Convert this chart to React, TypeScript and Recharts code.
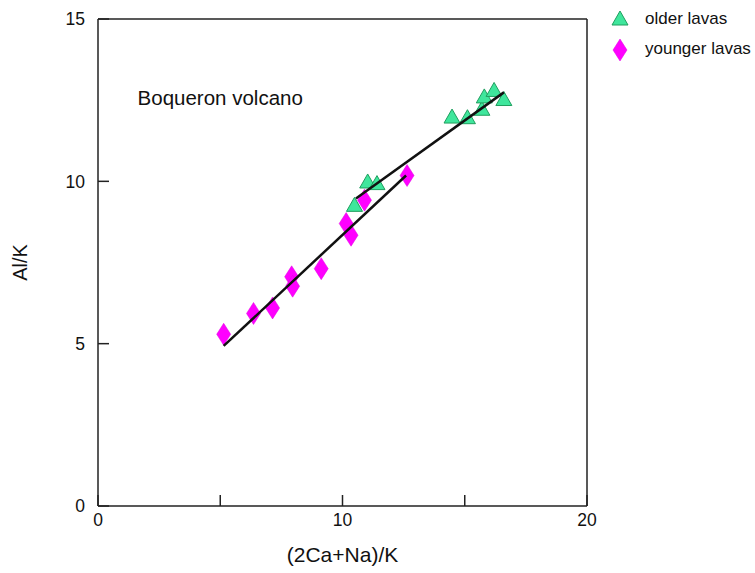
import React from "react";
import {
  ScatterChart,
  Scatter,
  XAxis,
  YAxis,
  Legend,
  ReferenceDot,
} from "recharts";

const FONT = '"Liberation Sans", Arial, Helvetica, sans-serif';

// sample points: [ (2Ca+Na)/K, Al/K ]
const olderLavas = [
  { x: 10.49, y: 9.26 },
  { x: 11.03, y: 9.98 },
  { x: 11.41, y: 9.93 },
  { x: 14.48, y: 11.98 },
  { x: 15.11, y: 11.96 },
  { x: 15.7, y: 12.22 },
  { x: 15.8, y: 12.6 },
  { x: 16.2, y: 12.8 },
  { x: 16.6, y: 12.52 },
];

const youngerLavas = [
  { x: 5.14, y: 5.29 },
  { x: 6.36, y: 5.93 },
  { x: 7.14, y: 6.1 },
  { x: 7.92, y: 7.06 },
  { x: 7.96, y: 6.77 },
  { x: 9.13, y: 7.31 },
  { x: 10.15, y: 8.7 },
  { x: 10.35, y: 8.34 },
  { x: 10.9, y: 9.42 },
  { x: 12.64, y: 10.18 },
];

// fitted trend lines (end points)
const olderFit = [
  { x: 10.55, y: 9.47 },
  { x: 16.6, y: 12.74 },
];
const youngerFit = [
  { x: 5.14, y: 4.93 },
  { x: 12.6, y: 10.18 },
];

const xTicks = [0, 5, 10, 15, 20];
const yTicks = [0, 5, 10, 15];

const GREEN = "#3fe69c";
const GREEN_EDGE = "#1f9e5e";
const MAGENTA = "#ff00ff";

const Triangle = ({ cx, cy }: any) => (
  <polygon
    points={`${cx},${cy - 8} ${cx + 8},${cy + 6} ${cx - 8},${cy + 6}`}
    fill={GREEN}
    stroke={GREEN_EDGE}
    strokeWidth={1}
  />
);

const Diamond = ({ cx, cy }: any) => (
  <polygon
    points={`${cx},${cy - 11} ${cx + 7},${cy} ${cx},${cy + 11} ${cx - 7},${cy}`}
    fill={MAGENTA}
    stroke="#e000e0"
    strokeWidth={0.5}
  />
);

const Nothing = () => <g />;

const YLabel = (props: any) => {
  const { viewBox } = props;
  const cx = 20;
  const cy = viewBox.y + viewBox.height / 2;
  return (
    <text
      x={cx}
      y={cy}
      transform={`rotate(-90 ${cx} ${cy})`}
      textAnchor="middle"
      dominantBaseline="central"
      fontSize={20}
      fontFamily={FONT}
      fill="#111"
    >
      Al/K
    </text>
  );
};

const LegendContent = (props: any) => {
  const items = (props.payload || []).filter(
    (p: any) => p.value === "older lavas" || p.value === "younger lavas"
  );
  return (
    <div style={{ fontFamily: FONT, fontSize: 17, color: "#111" }}>
      {items.map((p: any) => (
        <div
          key={p.value}
          style={{ display: "flex", alignItems: "center", height: 30 }}
        >
          <svg width={24} height={30} style={{ marginRight: 13 }}>
            {p.value === "older lavas" ? (
              <Triangle cx={12} cy={15} />
            ) : (
              <Diamond cx={12} cy={16} />
            )}
          </svg>
          <span style={{ whiteSpace: "nowrap" }}>{p.value}</span>
        </div>
      ))}
    </div>
  );
};

const axisLine = { stroke: "#222", strokeWidth: 1.5 };
const tickLine = { stroke: "#222", strokeWidth: 1.5 };

export default function App() {
  return (
    <div style={{ position: "absolute", left: 0, top: 0, background: "#fff" }}>
      <ScatterChart
        width={755}
        height={573}
        margin={{ top: 14, right: 163, bottom: 7, left: 8 }}
      >
        <XAxis
          xAxisId="b"
          dataKey="x"
          type="number"
          domain={[0, 20]}
          ticks={xTicks}
          tickFormatter={(v: number) => (v % 10 === 0 ? String(v) : "")}
          height={60}
          tickSize={-11}
          tickMargin={19}
          axisLine={axisLine}
          tickLine={tickLine}
          tick={{ fill: "#111", fontSize: 17.5, fontFamily: FONT }}
          label={{
            value: "(2Ca+Na)/K",
            position: "insideBottom",
            offset: 4,
            fill: "#111",
            fontSize: 21,
            fontFamily: FONT,
          }}
        />
        <XAxis
          xAxisId="t"
          orientation="top"
          dataKey="x"
          type="number"
          domain={[0, 20]}
          ticks={xTicks}
          height={5}
          tickSize={-11}
          axisLine={axisLine}
          tickLine={tickLine}
          tick={false}
        />
        <YAxis
          yAxisId="l"
          dataKey="y"
          type="number"
          domain={[0, 15]}
          ticks={yTicks}
          width={90}
          tickSize={-11}
          tickMargin={24}
          axisLine={axisLine}
          tickLine={tickLine}
          tick={{ fill: "#111", fontSize: 17.5, fontFamily: FONT }}
          label={<YLabel />}
        />
        <YAxis
          yAxisId="r"
          orientation="right"
          dataKey="y"
          type="number"
          domain={[0, 15]}
          ticks={yTicks}
          width={5}
          tickSize={-11}
          axisLine={axisLine}
          tickLine={tickLine}
          tick={false}
        />
        <Scatter
          name="older lavas"
          data={olderLavas}
          xAxisId="b"
          yAxisId="l"
          fill={GREEN}
          shape={Triangle}
          isAnimationActive={false}
        />
        <Scatter
          name="younger lavas"
          data={youngerLavas}
          xAxisId="b"
          yAxisId="l"
          fill={MAGENTA}
          shape={Diamond}
          isAnimationActive={false}
        />
        <Scatter
          name="older fit"
          data={olderFit}
          xAxisId="t"
          yAxisId="r"
          line={{ stroke: "#111", strokeWidth: 2.5 }}
          shape={Nothing}
          legendType="none"
          isAnimationActive={false}
        />
        <Scatter
          name="younger fit"
          data={youngerFit}
          xAxisId="t"
          yAxisId="r"
          line={{ stroke: "#111", strokeWidth: 2.5 }}
          shape={Nothing}
          legendType="none"
          isAnimationActive={false}
        />
        <ReferenceDot
          xAxisId="b"
          yAxisId="l"
          x={1.62}
          y={12.57}
          r={0}
          stroke="none"
          fill="none"
          label={{
            value: "Boqueron volcano",
            position: "right",
            offset: 0,
            fill: "#111",
            fontSize: 20.5,
            fontFamily: FONT,
          }}
        />
        <Legend
          layout="vertical"
          align="center"
          verticalAlign="middle"
          wrapperStyle={{ left: 608, top: 4, width: 147, overflow: "hidden" }}
          content={<LegendContent />}
        />
      </ScatterChart>
    </div>
  );
}
